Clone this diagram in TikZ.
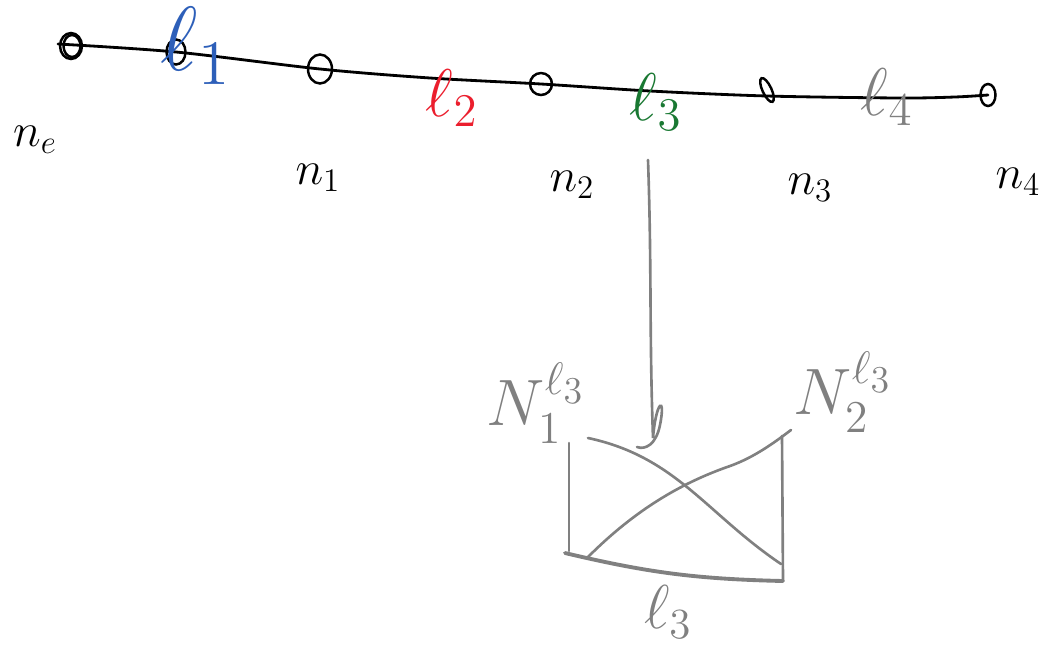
\documentclass[tikz,border=0pt]{standalone}
\usepackage{amsmath,amssymb}
\usepackage{xcolor}
\usepackage{graphicx}
\usetikzlibrary{arrows.meta, positioning, calc, shapes.geometric}
\definecolor{skBlue}{RGB}{45,95,185}
\definecolor{skRed}{RGB}{235,30,45}
\definecolor{skGreen}{RGB}{25,120,50}
\definecolor{skGray}{RGB}{128,128,128}
\newcommand{\hand}[2]{\scalebox{#1}{$#2$}}

\begin{document}
\begin{tikzpicture}[x=0.02cm,y=-0.02cm,line cap=round,
  V/.style={draw=black,ellipse,line width=1.4pt,inner sep=0pt,
            minimum width=4.4mm,minimum height=4.4mm},
  L/.style={font=\huge,inner sep=1pt},
  G/.style={draw=skGray,line width=1.5pt}]
\useasboundingbox (0,0) rectangle (1054,653);

% nodes on the line
\node[V,minimum height=5.2mm] (ne) at (71,46) {};
\node[V,minimum width=3.4mm] at (72,46) {};
\node[V,minimum width=3.8mm,minimum height=5mm] (m1) at (176,52) {};
\node[V,minimum width=4.8mm,minimum height=5.8mm] (n1) at (320,69) {};
\node[V] (n2) at (541,84) {};
\node[V,minimum width=1.8mm,minimum height=5.2mm,rotate=25] (n3) at (767,90) {};
\node[V,minimum width=3mm,minimum height=4.4mm] (n4) at (988,95) {};

% the path
\draw[line width=1.6pt] plot[smooth,tension=0.5] coordinates {(58,44)
  (m1.center) (n1.center) (430,78) (n2.center) (650,91) (767,96)
  (900,98) (955,97) (n4.center)};

% node labels
\node[L] (tne) at (35,140) {\hand{1.3}{n_e}};
\node[L] (tn1) at (318,178) {\hand{1.3}{n_1}};
\node[L] (tn2) at (572,185) {\hand{1.3}{n_2}};
\node[L] (tn3) at (810,188) {\hand{1.3}{n_3}};
\node[L] (tn4) at (1018,182) {\hand{1.3}{n_4}};

% edge labels
\node[L,text=skBlue]  (l1) at (196,46)  {\hand{2.5}{\ell_1}};
\node[L,text=skRed]   (l2) at (452,98)  {\hand{1.85}{\ell_2}};
\node[L,text=skGreen] (l3) at (656,102) {\hand{1.85}{\ell_3}};
\node[L,text=skGray]  (l4) at (887,97)  {\hand{1.85}{\ell_4}};

% zoom on l3
\coordinate (t0) at (648,160);
\coordinate (hk) at (653,438);
\draw[G] (t0) to[out=-88,in=92] (hk)
  .. controls (656,400) and (666,395) .. (660,425)
  .. controls (656,445) and (645,450) .. (637,447);

\coordinate (a) at (569,443);
\coordinate (b) at (569,551);
\coordinate (c) at (783,581);
\coordinate (d) at (782,436);

\draw[G] (a) -- (b);
\draw[G] (d) -- (c);
\draw[G,line width=2.2pt] (565,553) to[bend right=6] (c);
\draw[G] (588,438) to[out=-12,in=146] (781,564);
\draw[G] (588,557) .. controls (630,515) and (675,485) .. (730,466)
  .. controls (755,457) and (775,442) .. (791,430);

\node[L,text=skGray] (N1) at (536,403) {\hand{1.8}{N_1^{\ell_3}}};
\node[L,text=skGray] (N2) at (843,392) {\hand{1.8}{N_2^{\ell_3}}};
\node[L,text=skGray] (le) at (668,612) {\hand{1.7}{\ell_3}};
\end{tikzpicture}
\end{document}
